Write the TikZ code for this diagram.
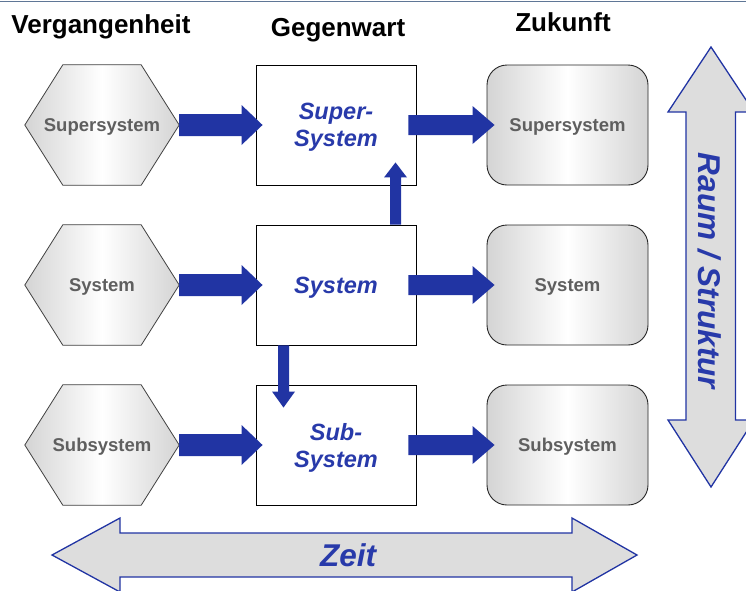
\documentclass[tikz,border=0pt]{standalone}
\usepackage{fontspec}
\setmainfont{Liberation Sans}
\usetikzlibrary{calc,backgrounds}
\definecolor{ablue}{RGB}{33,52,163}
\definecolor{tblue}{RGB}{40,58,170}
\definecolor{lgray}{RGB}{221,221,221}
\definecolor{sgray}{RGB}{212,212,212}
\definecolor{lblgray}{RGB}{95,95,95}
\definecolor{topline}{RGB}{95,118,150}
% horizontal block arrow: from, tip, shaft half width, head half width, head length
\newcommand\rblockarrow[5]{\fill[ablue] let \p1=(#1), \p2=(#2) in
  (\x1,\y1+#3) -- (\x2-#5,\y1+#3) -- (\x2-#5,\y1+#4) -- (\x2,\y1)
  -- (\x2-#5,\y1-#4) -- (\x2-#5,\y1-#3) -- (\x1,\y1-#3) -- cycle;}
% upward block arrow
\newcommand\ublockarrow[5]{\fill[ablue] let \p1=(#1), \p2=(#2) in
  (\x1-#3,\y1) -- (\x1-#3,\y2-#5) -- (\x1-#4,\y2-#5) -- (\x1,\y2)
  -- (\x1+#4,\y2-#5) -- (\x1+#3,\y2-#5) -- (\x1+#3,\y1) -- cycle;}
% downward block arrow
\newcommand\dblockarrow[5]{\fill[ablue] let \p1=(#1), \p2=(#2) in
  (\x1-#3,\y1) -- (\x1-#3,\y2+#5) -- (\x1-#4,\y2+#5) -- (\x1,\y2)
  -- (\x1+#4,\y2+#5) -- (\x1+#3,\y2+#5) -- (\x1+#3,\y1) -- cycle;}
\tikzset{
  headtext/.style={anchor=base, inner sep=0pt, font=\fontsize{26}{30}\selectfont\bfseries, text=black},
  hexnode/.style={minimum width=154pt, minimum height=120pt, inner sep=0pt, text depth=0pt,
    font=\fontsize{18.5}{22}\selectfont\bfseries, text=lblgray},
  hexshape/.style={draw=black!75, line width=0.8pt, left color=sgray, right color=sgray, middle color=white},
  cbox/.style={draw=black, line width=0.9pt, fill=white, minimum width=160pt, minimum height=120pt,
    inner sep=0pt, align=center, font=\fontsize{23.5}{27}\selectfont\bfseries\itshape, text=tblue},
  rbox/.style={draw=black!85, line width=0.9pt, rounded corners=20pt, minimum width=161pt, minimum height=120pt,
    inner sep=0pt, text depth=0pt, left color=sgray, right color=sgray, middle color=white,
    font=\fontsize{18.5}{22}\selectfont\bfseries, text=lblgray},
  bigarrow/.style={draw=ablue, line width=1.3pt, fill=lgray},
  bigtext/.style={inner sep=0pt, font=\fontsize{31.5}{36}\selectfont\bfseries\itshape, text=tblue},
}
\begin{document}
\begin{tikzpicture}[x=1pt,y=-1pt]
\useasboundingbox (0,0) rectangle (746,590);
\draw[topline, line width=1.2pt] (0,1.5) -- (746,1.5);

% headers
\node[headtext] (past) at (101,33) {Vergangenheit};
\node[headtext] (now) at (338,36) {Gegenwart};
\node[headtext] (future) at (563,31) {Zukunft};

% hexagons (past)
\node[hexnode] (h1) at (102,125) {Supersystem};
\node[hexnode] (h2) at (102,285) {System};
\node[hexnode] (h3) at (102,445) {Subsystem};
\begin{scope}[on background layer]
\foreach \h in {h1,h2,h3}{
  \path[hexshape] (\h.west) -- ($(\h.north west)+(38,0)$) -- ($(\h.north east)+(-38,0)$)
    -- (\h.east) -- ($(\h.south east)+(-38,0)$) -- ($(\h.south west)+(38,0)$) -- cycle;
}
\end{scope}

% present boxes
\node[cbox, text depth=0pt] (c1) at (336,125) {Super-\\System};
\node[cbox, text depth=0pt] (c2) at (336,285) {System};
\node[cbox, text depth=0pt] (c3) at (336,445) {Sub-\\System};

% future boxes
\node[rbox] (f1) at (567.5,125) {Supersystem};
\node[rbox] (f2) at (567.5,285) {System};
\node[rbox] (f3) at (567.5,445) {Subsystem};

% block arrows
\foreach \i in {1,2,3}{
  \rblockarrow{h\i.east}{$(c\i.west)+(7,0)$}{11pt}{20pt}{21pt}
  \rblockarrow{$(c\i.east)+(-8,0)$}{$(f\i.west)+(8,0)$}{10pt}{19pt}{22pt}
}
\ublockarrow{$(c2.north)+(59.5,0)$}{$(c1.south)+(59.5,-23)$}{5.5pt}{11.5pt}{15pt}
\dblockarrow{$(c2.south)+(-52.5,0)$}{$(c3.north)+(-52.5,23)$}{5.5pt}{11.5pt}{16pt}

% big double arrows
\node[bigtext] (zeit) at (348,555) {Zeit};
\node[bigtext, rotate=-90] (raum) at (710,271) {Raum / Struktur};
\begin{scope}[on background layer]
\path[bigarrow] (52,555) -- (120,518) -- (120,533) -- (572,533) -- (572,518) -- (637,555)
  -- (572,592) -- (572,577) -- (120,577) -- (120,592) -- cycle;
\path[bigarrow] (711,47) -- (754,112) -- (735.5,112) -- (735.5,420) -- (754,420) -- (711,487)
  -- (668,420) -- (686,420) -- (686,112) -- (668,112) -- cycle;
\end{scope}
\end{tikzpicture}
\end{document}
